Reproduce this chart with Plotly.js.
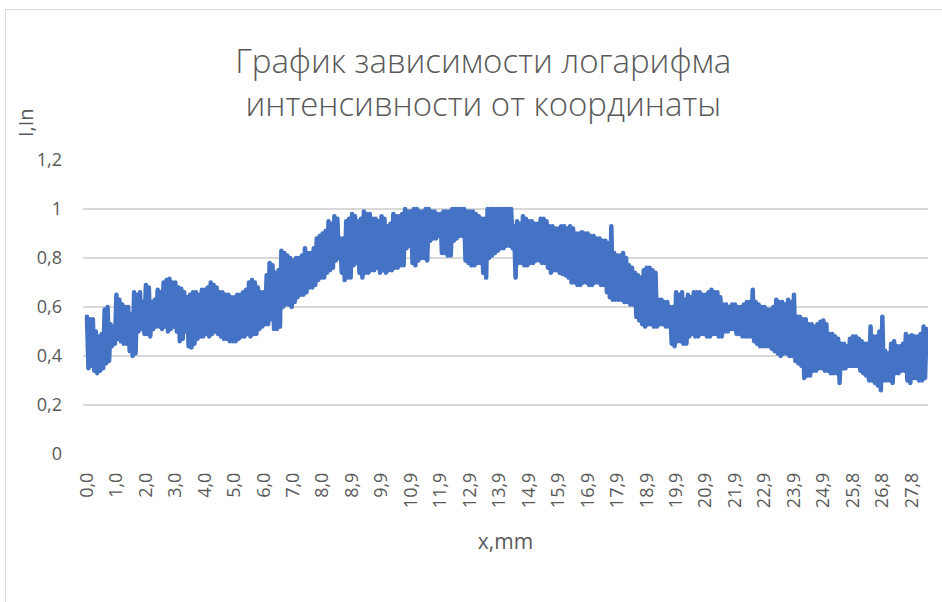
<!DOCTYPE html>
<html>
<head>
<meta charset="utf-8">
<script src="https://cdn.plot.ly/plotly-3.0.1.min.js"></script>
<style>
  html, body { margin: 0; padding: 0; background: #ffffff; }
  #wrap { position: relative; width: 942px; height: 602px; overflow: hidden; }
  #chart { width: 942px; height: 602px; }
  #chart path.js-line { stroke-linejoin: round !important; stroke-linecap: round !important; }
  #frame {
    position: absolute; left: 5px; top: 9px; right: -10px; bottom: -10px;
    border-top: 1.5px solid #d9d9d9; border-left: 1.5px solid #d9d9d9;
    pointer-events: none;
  }
</style>
</head>
<body>
<div id="wrap">
  <div id="chart"></div>
  <div id="frame"></div>
</div>
<script>
// Measured log-intensity along the sample, one reading per step along x
const intensity = [
  0.56, 0.35, 0.55, 0.36, 0.55, 0.34, 0.50, 0.33, 0.48, 0.34, 0.49, 0.35, 0.59, 0.37, 0.60, 0.38, 0.53, 0.44, 0.52, 0.45,
  0.65, 0.47, 0.63, 0.46, 0.61, 0.45, 0.60, 0.45, 0.60, 0.42, 0.57, 0.40, 0.66, 0.41, 0.65, 0.50, 0.66, 0.51, 0.62, 0.49,
  0.69, 0.49, 0.68, 0.48, 0.62, 0.51, 0.63, 0.52, 0.67, 0.52, 0.66, 0.51, 0.70, 0.52, 0.71, 0.50, 0.715, 0.51, 0.70, 0.52,
  0.70, 0.50, 0.68, 0.46, 0.675, 0.47, 0.66, 0.50, 0.64, 0.44, 0.65, 0.435, 0.66, 0.45, 0.66, 0.47, 0.65, 0.48, 0.67, 0.48,
  0.67, 0.49, 0.68, 0.48, 0.70, 0.49, 0.69, 0.50, 0.68, 0.49, 0.66, 0.48, 0.66, 0.47, 0.65, 0.47, 0.65, 0.46, 0.64, 0.46,
  0.64, 0.46, 0.65, 0.47, 0.65, 0.48, 0.66, 0.48, 0.67, 0.49, 0.70, 0.48, 0.71, 0.49, 0.70, 0.49, 0.68, 0.51, 0.66, 0.52,
  0.66, 0.53, 0.73, 0.53, 0.78, 0.55, 0.77, 0.51, 0.74, 0.51, 0.75, 0.52, 0.83, 0.60, 0.82, 0.61, 0.81, 0.61, 0.80, 0.60,
  0.79, 0.62, 0.80, 0.64, 0.80, 0.65, 0.81, 0.65, 0.84, 0.66, 0.82, 0.68, 0.82, 0.68, 0.84, 0.69, 0.88, 0.71, 0.89, 0.72,
  0.90, 0.72, 0.91, 0.74, 0.95, 0.75, 0.94, 0.76, 0.97, 0.79, 0.96, 0.80, 0.88, 0.74, 0.88, 0.71, 0.95, 0.72, 0.96, 0.72,
  0.98, 0.77, 0.97, 0.78, 0.95, 0.74, 0.96, 0.72, 0.99, 0.74, 0.98, 0.74, 0.98, 0.75, 0.96, 0.75, 0.96, 0.76, 0.95, 0.74,
  0.97, 0.75, 0.96, 0.74, 0.93, 0.75, 0.94, 0.75, 0.98, 0.76, 0.97, 0.76, 0.97, 0.77, 0.98, 0.77, 1.00, 0.84, 0.99, 0.85,
  0.99, 0.78, 1.00, 0.77, 1.00, 0.79, 0.99, 0.80, 0.99, 0.80, 1.00, 0.79, 1.00, 0.87, 0.99, 0.88, 0.99, 0.88, 0.98, 0.89,
  0.98, 0.82, 0.99, 0.82, 0.99, 0.81, 0.99, 0.81, 1.00, 0.87, 1.00, 0.88, 1.00, 0.89, 1.00, 0.89, 1.00, 0.79, 0.99, 0.78,
  0.99, 0.77, 0.99, 0.77, 0.98, 0.78, 0.97, 0.78, 0.96, 0.74, 0.96, 0.72, 1.00, 0.80, 1.00, 0.81, 1.00, 0.82, 1.00, 0.83,
  1.00, 0.84, 1.00, 0.84, 1.00, 0.85, 1.00, 0.85, 1.00, 0.84, 0.93, 0.72, 0.95, 0.78, 0.94, 0.78, 0.97, 0.77, 0.96, 0.77,
  0.95, 0.78, 0.95, 0.78, 0.94, 0.79, 0.94, 0.79, 0.96, 0.78, 0.96, 0.78, 0.95, 0.76, 0.93, 0.74, 0.93, 0.75, 0.92, 0.75,
  0.92, 0.74, 0.93, 0.735, 0.93, 0.73, 0.92, 0.72, 0.93, 0.70, 0.92, 0.70, 0.90, 0.69, 0.90, 0.69, 0.905, 0.70, 0.90, 0.70,
  0.90, 0.69, 0.89, 0.69, 0.89, 0.70, 0.88, 0.70, 0.88, 0.69, 0.87, 0.69, 0.87, 0.66, 0.86, 0.64, 0.93, 0.63, 0.82, 0.63,
  0.81, 0.63, 0.81, 0.63, 0.82, 0.62, 0.80, 0.62, 0.77, 0.61, 0.76, 0.61, 0.74, 0.56, 0.73, 0.545, 0.72, 0.53, 0.75, 0.52,
  0.76, 0.53, 0.76, 0.53, 0.75, 0.52, 0.74, 0.52, 0.63, 0.53, 0.63, 0.53, 0.62, 0.52, 0.62, 0.52, 0.60, 0.45, 0.60, 0.44,
  0.66, 0.46, 0.65, 0.46, 0.66, 0.45, 0.63, 0.45, 0.65, 0.48, 0.64, 0.49, 0.66, 0.48, 0.66, 0.48, 0.66, 0.49, 0.65, 0.49,
  0.65, 0.48, 0.66, 0.48, 0.67, 0.49, 0.66, 0.49, 0.66, 0.48, 0.64, 0.48, 0.61, 0.50, 0.61, 0.50, 0.60, 0.51, 0.61, 0.51,
  0.61, 0.49, 0.60, 0.49, 0.60, 0.48, 0.61, 0.48, 0.62, 0.48, 0.62, 0.48, 0.67, 0.46, 0.62, 0.45, 0.61, 0.44, 0.60, 0.44,
  0.60, 0.44, 0.59, 0.44, 0.59, 0.43, 0.60, 0.42, 0.63, 0.41, 0.62, 0.40, 0.62, 0.41, 0.61, 0.41, 0.63, 0.40, 0.62, 0.40,
  0.65, 0.38, 0.56, 0.37, 0.56, 0.36, 0.55, 0.31, 0.55, 0.32, 0.53, 0.32, 0.53, 0.34, 0.52, 0.34, 0.53, 0.35, 0.54, 0.35,
  0.545, 0.34, 0.53, 0.34, 0.49, 0.33, 0.49, 0.33, 0.48, 0.33, 0.47, 0.29, 0.45, 0.35, 0.45, 0.35, 0.44, 0.36, 0.47, 0.36,
  0.48, 0.36, 0.48, 0.36, 0.47, 0.34, 0.46, 0.33, 0.45, 0.32, 0.45, 0.30, 0.52, 0.30, 0.48, 0.29, 0.48, 0.28, 0.50, 0.26,
  0.56, 0.30, 0.42, 0.30, 0.41, 0.30, 0.45, 0.29, 0.46, 0.33, 0.44, 0.33, 0.44, 0.34, 0.45, 0.34, 0.49, 0.30, 0.48, 0.29,
  0.485, 0.31, 0.48, 0.31, 0.48, 0.30, 0.49, 0.30, 0.52, 0.31, 0.51
];

// Category labels on the x axis (one every twenty readings), mm
const xTickLabels = [
  '0,0', '1,0', '2,0', '3,0', '4,0', '5,0', '6,0', '7,0', '8,0', '8,9',
  '9,9', '10,9', '11,9', '12,9', '13,9', '14,9', '15,9', '16,9', '17,9', '18,9',
  '19,9', '20,9', '21,9', '22,9', '23,9', '24,9', '25,8', '26,8', '27,8'
];
const labelEvery = 20;

const chartTitle = 'График зависимости логарифма<br>интенсивности от координаты';
const xTitle = 'x,mm';
const yTitle = 'I,In';

const readingIndex = intensity.map((_, i) => i);
const tickPositions = xTickLabels.map((_, k) => k * labelEvery);

const textColor = '#595959';
const gridColor = '#d9d9d9';
const fontFamily = '"Open Sans", "Noto Sans", sans-serif';

const trace = {
  type: 'scatter',
  mode: 'lines',
  x: readingIndex,
  y: intensity,
  line: { color: '#4472c4', width: 4.5, shape: 'linear' },
  hoverinfo: 'y'
};

const layout = {
  width: 942,
  height: 602,
  margin: { l: 83, r: 14, t: 160, b: 148 },
  paper_bgcolor: '#ffffff',
  plot_bgcolor: '#ffffff',
  separators: ', ',
  showlegend: false,
  font: { family: fontFamily, color: textColor, size: 18 },
  title: {
    text: chartTitle,
    font: { family: fontFamily, size: 33, color: textColor, weight: 300 },
    x: 0.513,
    xanchor: 'center',
    y: 0.878,
    yanchor: 'middle'
  },
  xaxis: {
    range: [-2.7, 571],
    tickmode: 'array',
    tickvals: tickPositions,
    ticktext: xTickLabels,
    tickangle: -90,
    ticks: '',
    showgrid: false,
    zeroline: false,
    showline: false,
    ticklabelstandoff: 14,
    tickfont: { family: fontFamily, size: 18, color: textColor },
    title: {
      text: xTitle,
      font: { family: fontFamily, size: 21, color: textColor },
      standoff: 27
    },
    fixedrange: true
  },
  yaxis: {
    range: [0, 1.2],
    dtick: 0.2,
    tick0: 0,
    ticks: '',
    showgrid: true,
    gridcolor: gridColor,
    gridwidth: 1.5,
    zeroline: false,
    showline: false,
    ticklabelstandoff: 20,
    tickfont: { family: fontFamily, size: 18, color: textColor },
    fixedrange: true
  },
  annotations: [{
    text: yTitle,
    xref: 'paper', yref: 'paper',
    x: (25 - 83) / 845, y: 1 + (454 - 123 - 294) / 294,
    xanchor: 'center', yanchor: 'middle',
    textangle: -90,
    showarrow: false,
    font: { family: fontFamily, size: 20, color: textColor }
  }]
};

Plotly.newPlot('chart', [trace], layout, { displayModeBar: false, staticPlot: true });
</script>
</body>
</html>
